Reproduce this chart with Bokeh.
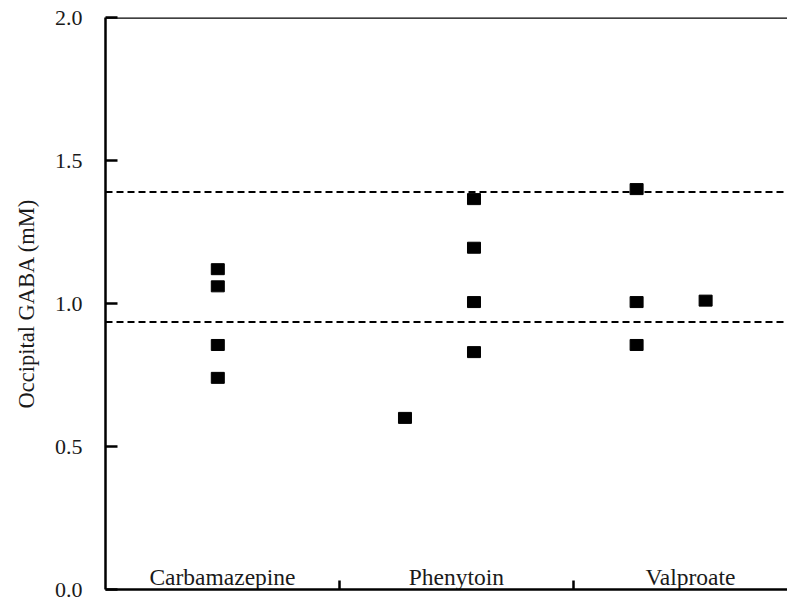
from bokeh.plotting import figure
from bokeh.models import Span, FixedTicker, Range1d, ColumnDataSource, NumeralTickFormatter
from bokeh.core.properties import value
from bokeh.embed import file_html
from bokeh.resources import INLINE

# ---- data ----
categories = ["Carbamazepine", "Phenytoin", "Valproate"]
category_boundaries = [1, 2]

carb_x = [0.48, 0.48, 0.48, 0.48]
carb_y = [1.12, 1.06, 0.855, 0.74]

phen_x = [1.575, 1.575, 1.575, 1.575, 1.28]
phen_y = [1.365, 1.195, 1.005, 0.83, 0.60]

valp_x = [2.27, 2.27, 2.27, 2.565]
valp_y = [1.40, 1.005, 0.855, 1.01]

reference_levels = [1.39, 0.935]
y_ticks = [0.0, 0.5, 1.0, 1.5, 2.0]

FONT = "Liberation Serif"
TXT = "#1a1a1a"
LW = 2.5

y_max = y_ticks[-1]
p = figure(width=787, height=601,
           x_range=Range1d(0, 2.915), y_range=Range1d(0, y_max),
           output_backend="svg", toolbar_location=None,
           min_border_left=105, min_border_right=0,
           min_border_top=17, min_border_bottom=12)
p.outline_line_color = None
p.grid.visible = False
p.background_fill_color = "white"
p.border_fill_color = "white"

# y axis
ya = p.yaxis[0]
ya.ticker = FixedTicker(ticks=y_ticks)
ya.formatter = NumeralTickFormatter(format="0.0")
ya.major_tick_in = 12
ya.major_tick_out = 0
ya.minor_tick_in = 0
ya.minor_tick_out = 0
ya.major_tick_line_width = LW
ya.axis_line_width = LW
ya.axis_line_color = "black"
ya.major_tick_line_color = "black"
ya.major_label_text_font = FONT
ya.major_label_text_font_size = "22px"
ya.major_label_text_color = TXT
ya.major_label_standoff = 23
ya.axis_label = "Occipital GABA (mM)"
ya.axis_label_text_font = FONT
ya.axis_label_text_font_size = "22.5px"
ya.axis_label_text_font_style = "normal"
ya.axis_label_text_color = TXT
ya.axis_label_standoff = 13

# x axis: only inward ticks at the category boundaries
xa = p.xaxis[0]
xa.ticker = FixedTicker(ticks=[], minor_ticks=category_boundaries)
xa.major_tick_in = 0
xa.major_tick_out = 0
xa.minor_tick_in = 9
xa.minor_tick_out = 0
xa.minor_tick_line_width = LW
xa.minor_tick_line_color = "black"
xa.axis_line_width = LW
xa.axis_line_color = "black"

# top frame line
p.add_layout(Span(location=y_max, dimension="width", line_color="black", line_width=LW))

# reference dashed lines
for lvl in reference_levels:
    p.add_layout(Span(location=lvl, dimension="width", line_color="black",
                      line_width=2, line_dash="7 4"))

# category labels inside the plot above the axis
p.text(x=[i + 0.5 for i in range(len(categories))], y=[0] * len(categories),
       text=categories, text_font=value(FONT), text_font_size="23.5px",
       text_align="center", text_baseline="alphabetic", y_offset=-13,
       text_color=TXT)

# data points
for xs, ys in [(carb_x, carb_y), (phen_x, phen_y), (valp_x, valp_y)]:
    src = ColumnDataSource(dict(x=xs, y=ys))
    p.rect(x="x", y="y", width=13, height=11, width_units="screen",
           height_units="screen", source=src, fill_color="black",
           line_color="black")

open("out.html", "w").write(file_html(p, INLINE))
